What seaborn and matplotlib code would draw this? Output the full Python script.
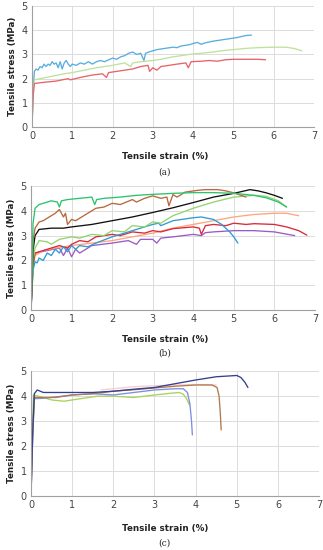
import numpy as np
import pandas as pd
import matplotlib
matplotlib.use("Agg")
import matplotlib.pyplot as plt
import seaborn as sns
from matplotlib.ticker import MultipleLocator

# ---------------- panel (a) ----------------
a_blue_x = [0, 0.03, 0.06, 0.1, 0.15, 0.2, 0.25, 0.3, 0.35, 0.4, 0.45, 0.5, 0.55, 0.6, 0.65, 0.7, 0.75, 0.8, 0.85, 0.9, 0.95, 1.0, 1.1, 1.2, 1.3, 1.4, 1.5, 1.6, 1.7, 1.8, 2.0, 2.1, 2.2, 2.3, 2.4, 2.5, 2.6, 2.7, 2.78, 2.82, 2.9, 3.1, 3.3, 3.5, 3.6, 3.7, 3.9, 4.1, 4.2, 4.3, 4.5, 4.7, 4.9, 5.1, 5.3, 5.45]
a_blue_y = [0, 1.6, 2.3, 2.4, 2.35, 2.5, 2.45, 2.6, 2.5, 2.6, 2.55, 2.7, 2.6, 2.65, 2.45, 2.7, 2.4, 2.65, 2.75, 2.6, 2.5, 2.6, 2.55, 2.65, 2.6, 2.7, 2.6, 2.7, 2.75, 2.7, 2.85, 2.8, 2.9, 2.95, 3.05, 3.1, 3.0, 3.05, 2.75, 3.05, 3.1, 3.2, 3.25, 3.3, 3.28, 3.35, 3.4, 3.5, 3.42, 3.48, 3.55, 3.6, 3.65, 3.7, 3.78, 3.8]
a_green_x = [0, 0.03, 0.06, 0.2, 0.5, 0.8, 1.0, 1.3, 1.6, 1.8, 2.0, 2.3, 2.45, 2.5, 2.7, 3.0, 3.2, 3.5, 3.7, 3.9, 4.2, 4.5, 4.7, 5.0, 5.3, 5.6, 6.0, 6.3, 6.5, 6.7]
a_green_y = [0, 1.5, 1.95, 2.0, 2.1, 2.2, 2.25, 2.35, 2.45, 2.5, 2.55, 2.65, 2.5, 2.65, 2.7, 2.75, 2.8, 2.9, 2.95, 3.0, 3.05, 3.1, 3.15, 3.2, 3.25, 3.28, 3.3, 3.3, 3.25, 3.15]
a_red_x = [0, 0.03, 0.06, 0.3, 0.6, 0.9, 0.95, 1.2, 1.5, 1.75, 1.85, 1.9, 2.1, 2.3, 2.5, 2.7, 2.88, 2.92, 3.0, 3.1, 3.2, 3.4, 3.6, 3.82, 3.88, 3.95, 4.2, 4.4, 4.6, 4.8, 5.0, 5.3, 5.6, 5.8]
a_red_y = [0, 1.3, 1.8, 1.85, 1.9, 2.0, 1.95, 2.05, 2.15, 2.2, 2.05, 2.25, 2.3, 2.35, 2.4, 2.5, 2.55, 2.3, 2.45, 2.35, 2.5, 2.55, 2.6, 2.65, 2.45, 2.7, 2.72, 2.75, 2.72, 2.78, 2.8, 2.8, 2.8, 2.78]

# ---------------- panel (b) ----------------
b_teal_x = [0, 0.05, 0.1, 0.2, 0.3, 0.5, 0.65, 0.7, 0.75, 0.9, 1.2, 1.5, 1.57, 1.62, 1.8, 2.2, 2.6, 3.0, 3.5, 4.0, 4.5, 5.0, 5.5, 5.8, 6.1, 6.3]
b_teal_y = [0, 3.5, 4.1, 4.25, 4.3, 4.4, 4.35, 4.15, 4.4, 4.45, 4.5, 4.55, 4.25, 4.45, 4.5, 4.55, 4.62, 4.66, 4.7, 4.73, 4.73, 4.7, 4.62, 4.52, 4.35, 4.15]
b_brown_x = [0, 0.05, 0.1, 0.2, 0.3, 0.4, 0.5, 0.6, 0.7, 0.8, 0.85, 0.9, 1.0, 1.1, 1.3, 1.6, 1.8, 2.0, 2.2, 2.5, 2.6, 2.8, 3.0, 3.2, 3.35, 3.4, 3.5, 3.6, 3.8, 4.1, 4.3, 4.6, 4.8, 5.0, 5.3]
b_brown_y = [0, 2.8, 3.3, 3.55, 3.6, 3.7, 3.8, 3.9, 4.05, 3.75, 3.9, 3.45, 3.65, 3.6, 3.8, 4.1, 4.15, 4.3, 4.25, 4.45, 4.35, 4.5, 4.6, 4.5, 4.55, 4.2, 4.65, 4.55, 4.75, 4.82, 4.85, 4.85, 4.8, 4.72, 4.55]
b_black_x = [0, 0.05, 0.1, 0.2, 0.5, 0.8, 1.0, 1.5, 2.0, 2.5, 3.0, 3.5, 4.0, 4.5, 5.0, 5.4, 5.6, 5.8, 6.0, 6.2]
b_black_y = [0, 2.4, 3.0, 3.25, 3.3, 3.3, 3.35, 3.45, 3.6, 3.75, 3.93, 4.12, 4.33, 4.55, 4.7, 4.85, 4.8, 4.72, 4.62, 4.5]
b_lgreen_x = [0, 0.05, 0.1, 0.2, 0.4, 0.5, 0.7, 1.0, 1.2, 1.5, 1.8, 2.0, 2.3, 2.5, 2.8, 3.0, 3.2, 3.5, 4.0, 4.5, 5.0, 5.5, 5.8, 6.1, 6.3]
b_lgreen_y = [0, 2.0, 2.5, 2.8, 2.75, 2.65, 2.85, 2.95, 2.9, 3.05, 3.0, 3.2, 3.15, 3.4, 3.35, 3.55, 3.5, 3.8, 4.1, 4.35, 4.55, 4.62, 4.58, 4.4, 4.15]
b_blue_x = [0, 0.05, 0.1, 0.15, 0.2, 0.3, 0.4, 0.5, 0.6, 0.7, 0.8, 0.9, 1.0, 1.1, 1.2, 1.4, 1.6, 2.0, 2.5, 3.0, 3.15, 3.2, 3.5, 4.0, 4.2, 4.5, 4.7, 4.9, 5.0, 5.1]
b_blue_y = [0, 1.6, 1.95, 1.9, 2.1, 2.0, 2.3, 2.2, 2.45, 2.3, 2.55, 2.35, 2.6, 2.45, 2.6, 2.55, 2.7, 2.95, 3.2, 3.45, 3.5, 3.4, 3.6, 3.72, 3.75, 3.65, 3.45, 3.15, 2.95, 2.7]
b_red_x = [0, 0.05, 0.1, 0.3, 0.5, 0.7, 0.9, 1.0, 1.2, 1.4, 1.6, 2.0, 2.2, 2.5, 2.8, 3.0, 3.2, 3.5, 4.0, 4.15, 4.2, 4.3, 4.5, 4.8, 5.0, 5.3, 5.5, 6.0, 6.3, 6.6, 6.8]
b_red_y = [0, 1.8, 2.3, 2.4, 2.5, 2.6, 2.5, 2.65, 2.8, 2.75, 2.95, 3.05, 3.0, 3.15, 3.1, 3.2, 3.15, 3.28, 3.35, 3.3, 3.05, 3.4, 3.45, 3.4, 3.5, 3.45, 3.48, 3.45, 3.35, 3.2, 3.02]
b_orange_x = [0, 0.05, 0.1, 0.3, 0.6, 1.0, 1.5, 2.0, 2.5, 3.0, 3.5, 4.0, 4.5, 5.0, 5.5, 6.0, 6.3, 6.6]
b_orange_y = [0, 1.8, 2.2, 2.4, 2.5, 2.6, 2.7, 2.8, 2.95, 3.1, 3.3, 3.45, 3.6, 3.75, 3.85, 3.9, 3.9, 3.8]
b_purple_x = [0, 0.05, 0.1, 0.4, 0.7, 0.8, 0.9, 1.0, 1.1, 1.2, 1.5, 2.0, 2.4, 2.6, 2.7, 3.0, 3.1, 3.2, 3.5, 4.0, 4.2, 4.3, 4.5, 5.0, 5.5, 6.0, 6.5]
b_purple_y = [0, 1.9, 2.3, 2.4, 2.5, 2.2, 2.5, 2.15, 2.45, 2.3, 2.6, 2.7, 2.8, 2.65, 2.85, 2.85, 2.7, 2.9, 2.95, 3.05, 3.0, 3.12, 3.15, 3.2, 3.2, 3.15, 3.0]

# ---------------- panel (c) ----------------
c_navy_x = [0, 0.04, 0.08, 0.15, 0.3, 0.6, 1.0, 1.5, 2.0, 2.5, 3.0, 3.5, 4.0, 4.5, 5.0, 5.1, 5.2, 5.27]
c_navy_y = [0, 2.5, 4.1, 4.25, 4.15, 4.15, 4.15, 4.15, 4.2, 4.28, 4.35, 4.5, 4.65, 4.78, 4.83, 4.75, 4.55, 4.35]
c_brown_x = [0, 0.04, 0.08, 0.3, 0.6, 1.0, 1.5, 2.0, 2.5, 3.0, 3.5, 4.0, 4.4, 4.52, 4.57, 4.6, 4.62]
c_brown_y = [0, 2.4, 3.95, 3.95, 3.95, 4.05, 4.1, 4.2, 4.26, 4.33, 4.4, 4.45, 4.45, 4.35, 4.0, 3.3, 2.65]
c_pink_x = [1.7, 2.0, 2.5, 3.0, 3.5, 4.0, 4.5]
c_pink_y = [4.25, 4.3, 4.38, 4.42, 4.45, 4.47, 4.45]
c_lav_x = [0, 0.04, 0.08, 0.3, 0.6, 1.0, 1.5, 2.0, 2.5, 3.0, 3.5, 3.7, 3.8, 3.86, 3.9, 3.92]
c_lav_y = [0, 2.3, 3.9, 3.92, 3.97, 4.05, 4.1, 4.05, 4.15, 4.25, 4.3, 4.3, 4.15, 3.7, 3.0, 2.45]
c_lime_x = [0, 0.03, 0.06, 0.3, 0.5, 0.8, 1.2, 1.6, 2.0, 2.5, 3.0, 3.4, 3.6, 3.7, 3.78, 3.85]
c_lime_y = [0, 2.5, 4.05, 3.95, 3.85, 3.8, 3.9, 4.0, 4.0, 3.95, 4.05, 4.12, 4.15, 4.08, 3.9, 3.65]

panels = [
    ("(a)", [(a_blue_x, a_blue_y, "#5aaedc"), (a_green_x, a_green_y, "#bde39a"), (a_red_x, a_red_y, "#e8636a")]),
    ("(b)", [(b_purple_x, b_purple_y, "#9a5cc2"), (b_orange_x, b_orange_y, "#ffa57a"),
             (b_red_x, b_red_y, "#d9283c"), (b_blue_x, b_blue_y, "#2f9bd3"),
             (b_lgreen_x, b_lgreen_y, "#93d46e"), (b_black_x, b_black_y, "#111111"),
             (b_brown_x, b_brown_y, "#b8683e"), (b_teal_x, b_teal_y, "#2cc26e")]),
    ("(c)", [(c_pink_x, c_pink_y, "#f7cdd2"), (c_lime_x, c_lime_y, "#a9d25a"),
             (c_lav_x, c_lav_y, "#7d8fe0"), (c_brown_x, c_brown_y, "#b07a4e"),
             (c_navy_x, c_navy_y, "#34408f")]),
]

sns.set_style("whitegrid")
plt.rcParams['font.family'] = ['DejaVu Sans']

fig = plt.figure(figsize=(3.23, 5.5), dpi=100)
boxes = [[0.099, 0.769, 0.873, 0.220], [0.096, 0.436, 0.879, 0.226], [0.096, 0.098, 0.892, 0.227]]
caption_y = [0.687, 0.358, 0.013]
label_y = [0.716, 0.382, 0.040]

for (cap, curves), box, cy, ly in zip(panels, boxes, caption_y, label_y):
    ax = fig.add_axes(box)
    for x, y, col in curves:
        df = pd.DataFrame({"strain": x, "stress": y})
        sns.lineplot(data=df, x="strain", y="stress", sort=False, color=col, lw=0.95, ax=ax)
    ax.set_xlim(0, 7)
    ax.set_ylim(0, 5)
    ax.xaxis.set_major_locator(MultipleLocator(1))
    ax.yaxis.set_major_locator(MultipleLocator(1))
    ax.xaxis.set_minor_locator(MultipleLocator(0.5))
    ax.yaxis.set_minor_locator(MultipleLocator(0.5))
    ax.grid(True, which="major", color="#dcdcdc", lw=0.7)
    ax.grid(False, which="minor")
    ax.tick_params(which="major", length=0, labelsize=7, colors="#444444", pad=3)
    ax.tick_params(which="minor", direction="in", length=2.5, color="#999999", width=0.6)
    for s in ["top", "right"]:
        ax.spines[s].set_visible(False)
    for s in ["left", "bottom"]:
        ax.spines[s].set_color("#a0a0a0")
        ax.spines[s].set_linewidth(0.8)
    ax.set_xlabel("")
    ax.set_ylabel("Tensile stress (MPa)", fontsize=6.3, fontweight="bold", color="#222222", labelpad=3)
    fig.text(0.51, ly, "Tensile strain (%)", fontsize=6.3, fontweight="bold", color="#222222", ha="center", va="center")
    fig.text(0.51, cy, cap, fontsize=6.5, family="DejaVu Serif", ha="center", va="center")

fig.savefig("out.png", dpi=100)
